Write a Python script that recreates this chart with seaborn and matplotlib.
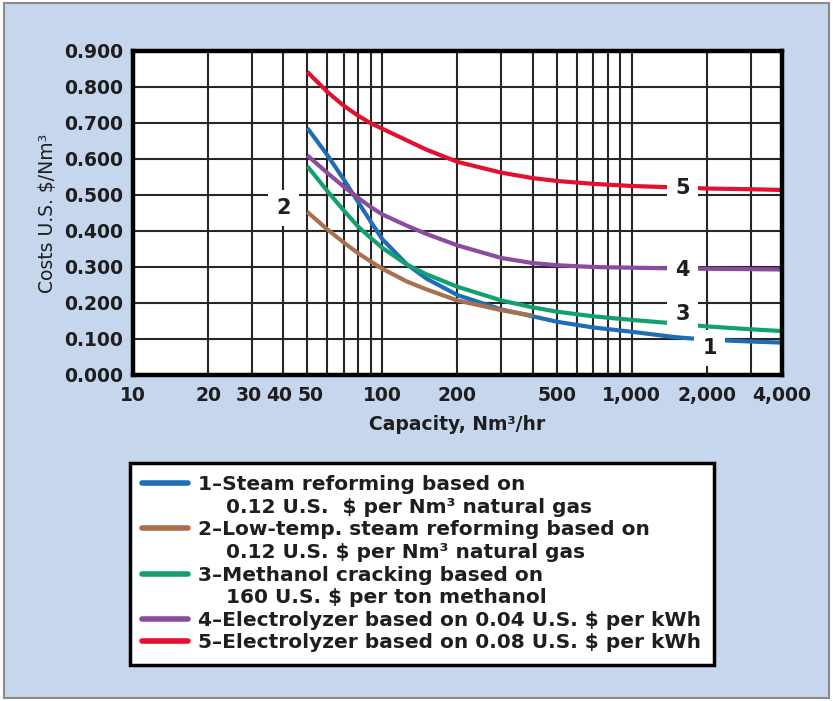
import numpy as np
import pandas as pd
import seaborn as sns
import matplotlib
matplotlib.use("Agg")
import matplotlib.pyplot as plt
from matplotlib.lines import Line2D
from matplotlib.patches import Rectangle
from matplotlib.ticker import FixedLocator, FixedFormatter, NullFormatter
from matplotlib.transforms import ScaledTranslation

# ---------------- data ----------------
capacity = [50, 60, 70, 80, 90, 100, 125, 150, 200, 300, 400, 500, 700, 1000, 1500, 2000, 3000, 4000]
cost_steam = [0.686, 0.612, 0.543, 0.480, 0.425, 0.377, 0.308, 0.268, 0.222, 0.182, 0.163, 0.148, 0.132, 0.120, 0.105, 0.098, 0.093, 0.090]
capacity_lowtemp = [50, 60, 70, 80, 90, 100, 125, 150, 200, 300, 400]
cost_lowtemp = [0.453, 0.405, 0.368, 0.338, 0.315, 0.295, 0.260, 0.238, 0.207, 0.180, 0.165]
cost_methanol = [0.580, 0.512, 0.457, 0.412, 0.380, 0.353, 0.307, 0.280, 0.245, 0.207, 0.188, 0.176, 0.163, 0.153, 0.143, 0.135, 0.127, 0.122]
cost_elec004 = [0.610, 0.562, 0.523, 0.492, 0.466, 0.446, 0.415, 0.392, 0.360, 0.325, 0.311, 0.305, 0.300, 0.298, 0.296, 0.295, 0.294, 0.293]
cost_elec008 = [0.842, 0.787, 0.748, 0.720, 0.699, 0.684, 0.652, 0.626, 0.592, 0.562, 0.547, 0.539, 0.531, 0.525, 0.521, 0.518, 0.516, 0.514]

series_names = ["1", "2", "3", "4", "5"]
series_colors = ["#1f6db5", "#a8704e", "#14a06e", "#8a4c9e", "#e2112f"]
legend_lines = [
    ("1–Steam reforming based on", True),
    ("    0.12 U.S.  $ per Nm³ natural gas", False),
    ("2–Low-temp. steam reforming based on", True),
    ("    0.12 U.S. $ per Nm³ natural gas", False),
    ("3–Methanol cracking based on", True),
    ("    160 U.S. $ per ton methanol", False),
    ("4–Electrolyzer based on 0.04 U.S. $ per kWh", True),
    ("5–Electrolyzer based on 0.08 U.S. $ per kWh", True),
]
xtick_values = [10, 20, 30, 40, 50, 100, 200, 500, 1000, 2000, 4000]
xtick_labels = ["10", "20", "30", "40", "50", "100", "200", "500", "1,000", "2,000", "4,000"]
ytick_values = [0.0, 0.1, 0.2, 0.3, 0.4, 0.5, 0.6, 0.7, 0.8, 0.9]
ytick_labels = ["0.000", "0.100", "0.200", "0.300", "0.400", "0.500", "0.600", "0.700", "0.800", "0.900"]
# curve number labels: (text, x, y)
curve_labels = [("2", 40, 0.464), ("5", 1600, 0.519), ("4", 1600, 0.292), ("3", 1600, 0.170), ("1", 2050, 0.075)]

frames = []
frames.append(pd.DataFrame({"capacity": capacity, "cost": cost_steam, "series": "1"}))
frames.append(pd.DataFrame({"capacity": capacity_lowtemp, "cost": cost_lowtemp, "series": "2"}))
frames.append(pd.DataFrame({"capacity": capacity, "cost": cost_methanol, "series": "3"}))
frames.append(pd.DataFrame({"capacity": capacity, "cost": cost_elec004, "series": "4"}))
frames.append(pd.DataFrame({"capacity": capacity, "cost": cost_elec008, "series": "5"}))
df = pd.concat(frames, ignore_index=True)

# ---------------- style ----------------
sns.set_theme(style="white")
plt.rcParams["font.family"] = ["DejaVu Sans"]
BG = "#c6d6ec"
TXT = "#1e1e1e"

fig = plt.figure(figsize=(8.33, 7.01), dpi=100, facecolor="white")
fig.patches.append(Rectangle((0.005, 0.004), 0.99, 0.992, transform=fig.transFigure,
                             facecolor=BG, edgecolor="#8a8a8a", linewidth=1.5, zorder=-10))
ax = fig.add_axes([133 / 833, 1 - 375 / 701, (782 - 133) / 833, (375 - 51) / 701])
ax.set_facecolor("white")

sns.lineplot(data=df, x="capacity", y="cost", hue="series", hue_order=series_names,
             palette=series_colors, linewidth=3.0, ax=ax, legend=False, zorder=3,
             estimator=None, sort=True)
for ln in ax.get_lines():
    ln.set_solid_joinstyle("round")
    ln.set_solid_capstyle("butt")

ax.set_xscale("log")
ax.set_xlim(10, 4000)
ax.set_ylim(0, 0.9)

# grid: all integer multiples on log axis
grid_x = [v * m for m in (10, 100, 1000) for v in range(1, 10)]
grid_x = [g for g in grid_x if 10 < g < 4000]
for gx in grid_x:
    ax.axvline(gx, color="#262626", linewidth=1.5, zorder=1)
for gy in ytick_values[1:]:
    ax.axhline(gy, color="#262626", linewidth=1.5, zorder=1)

ax.xaxis.set_major_locator(FixedLocator(xtick_values))
ax.xaxis.set_major_formatter(FixedFormatter(xtick_labels))
ax.xaxis.set_minor_formatter(NullFormatter())
ax.xaxis.set_minor_locator(FixedLocator([]))
ax.set_yticks(ytick_values)
ax.set_yticklabels(ytick_labels)
ax.tick_params(axis="both", which="both", length=0, labelsize=13.5, colors=TXT)
ax.tick_params(axis="x", pad=8)
ax.tick_params(axis="y", pad=7)
for lab in ax.get_xticklabels() + ax.get_yticklabels():
    lab.set_fontweight("bold")

# nudge the crowded 30/40/50 labels apart slightly, as in the reference
nudges = {"30": -3, "40": -4, "50": 3}
for lab in ax.get_xticklabels():
    dx = nudges.get(lab.get_text())
    if dx:
        lab.set_transform(lab.get_transform() + ScaledTranslation(dx / 100, 0, fig.dpi_scale_trans))

for sp in ax.spines.values():
    sp.set_visible(True)
    sp.set_color("black")
    sp.set_linewidth(3.2)
    sp.set_zorder(5)

ax.set_xlabel("Capacity, Nm³/hr", fontsize=13.5, fontweight="bold", color=TXT, labelpad=7)
ax.set_ylabel("Costs U.S. $/Nm³", fontsize=13.5, color=TXT, labelpad=5)

for txt, lx, ly in curve_labels:
    ax.text(lx, ly, txt, ha="center", va="center", fontsize=15, fontweight="bold",
            color=TXT, zorder=4,
            bbox=dict(boxstyle="square,pad=0.4", facecolor="white", edgecolor="none"))

# legend
handles = []
labels = []
ci = 0
for text, has_line in legend_lines:
    if has_line:
        handles.append(Line2D([], [], color=series_colors[ci], linewidth=4))
        ci += 1
    else:
        handles.append(Line2D([], [], color="none", linewidth=4))
    labels.append(text)
leg = fig.legend(handles, labels, loc="upper left", bbox_to_anchor=(130 / 833, 1 - 463 / 701),
                 frameon=True, fancybox=False, framealpha=1.0, fontsize=14.5, labelspacing=0.18,
                 handlelength=2.3, handletextpad=0.5, borderpad=0.6, borderaxespad=0)
leg.get_frame().set_edgecolor("black")
leg.get_frame().set_linewidth(2.5)
leg.get_frame().set_facecolor("white")
for t in leg.get_texts():
    t.set_color(TXT)
    t.set_fontweight("bold")

fig.savefig("out.png", dpi=100, facecolor=fig.get_facecolor())
